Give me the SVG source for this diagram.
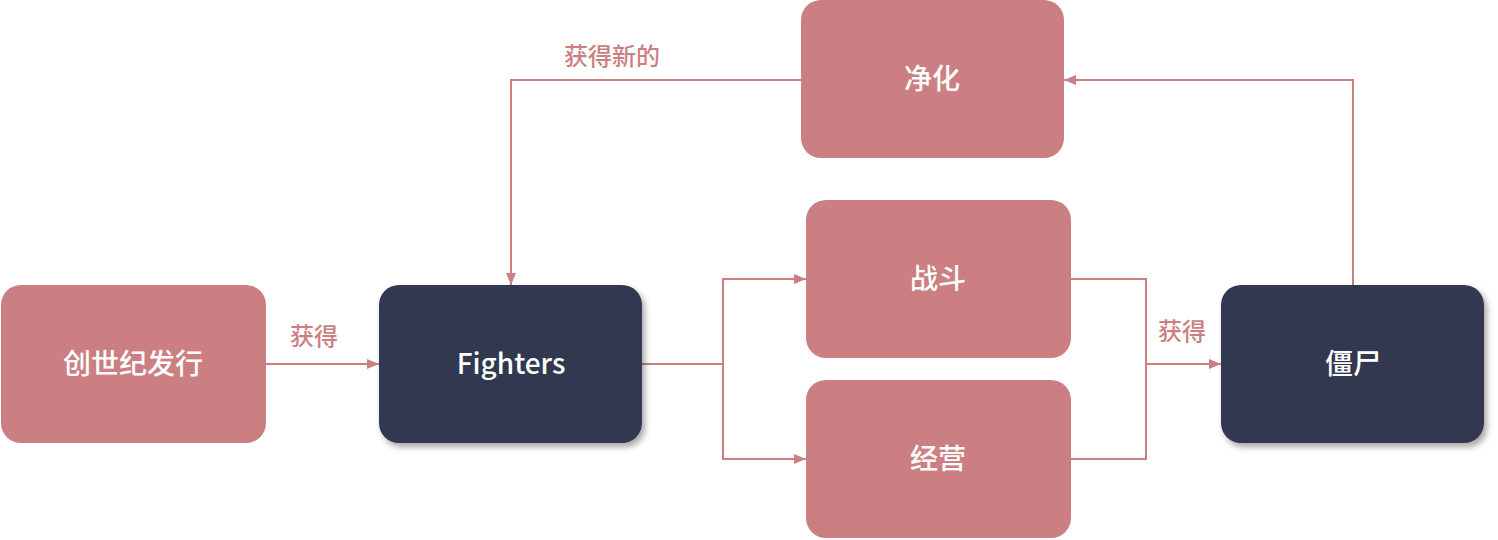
<svg xmlns="http://www.w3.org/2000/svg" width="1498" height="540" viewBox="0 0 1498 540">
<style>
.pink{fill:#cb7f83}
.dark{fill:#333850}
.nt{fill:#ffffff;font-family:"Noto Sans CJK SC","Noto Sans",sans-serif;font-size:28px;font-weight:500;text-anchor:middle;dominant-baseline:central}
.lbl{fill:#cb7f83;font-family:"Noto Sans CJK SC","Noto Sans",sans-serif;font-size:24px;text-anchor:middle;dominant-baseline:central;font-weight:500}
.c{fill:none;stroke:#cb7f83;stroke-width:2}
</style>
<defs>
<marker id="ah" viewBox="0 0 12 10" refX="12" refY="5" markerWidth="12" markerHeight="10" markerUnits="userSpaceOnUse" orient="auto">
<path d="M0,0 L12,5 L0,10 Z" fill="#cb7f83"/>
</marker>
<filter id="sh" x="-10%" y="-10%" width="125%" height="130%">
<feDropShadow dx="3" dy="4" stdDeviation="3" flood-color="#000" flood-opacity="0.35"/>
</filter>
</defs>
<rect width="1498" height="540" fill="#ffffff"/>
<g id="connectors">
<path class="c" d="M266,364 H379" marker-end="url(#ah)"/>
<path class="c" d="M801,80 H511 V285" marker-end="url(#ah)"/>
<path class="c" d="M642,364 H723"/>
<path class="c" d="M723,364 V279 H806" marker-end="url(#ah)"/>
<path class="c" d="M723,364 V459 H806" marker-end="url(#ah)"/>
<path class="c" d="M1071,279 H1146 V459 H1071"/>
<path class="c" d="M1146,364 H1221" marker-end="url(#ah)"/>
<path class="c" d="M1353,285 V80 H1064" marker-end="url(#ah)"/>
<text class="lbl" x="314" y="334">获得</text>
<text class="lbl" x="612" y="54">获得新的</text>
<text class="lbl" x="1182" y="329">获得</text>
</g>
<g id="n-genesis">
<rect class="pink" x="1" y="285" width="265" height="158" rx="20"/>
<text class="nt" x="133" y="362">创世纪发行</text>
</g>
<g id="n-fighters">
<rect class="dark" x="379" y="285" width="263" height="158" rx="20" filter="url(#sh)"/>
<text class="nt" x="511" y="362">Fighters</text>
</g>
<g id="n-purify">
<rect class="pink" x="801" y="0" width="263" height="158" rx="20"/>
<text class="nt" x="932" y="77">净化</text>
</g>
<g id="n-battle">
<rect class="pink" x="806" y="200" width="265" height="158" rx="20"/>
<text class="nt" x="938" y="277">战斗</text>
</g>
<g id="n-manage">
<rect class="pink" x="806" y="380" width="265" height="158" rx="20"/>
<text class="nt" x="938" y="457">经营</text>
</g>
<g id="n-zombie">
<rect class="dark" x="1221" y="285" width="263" height="158" rx="20" filter="url(#sh)"/>
<text class="nt" x="1353" y="362">僵尸</text>
</g>
</svg>
